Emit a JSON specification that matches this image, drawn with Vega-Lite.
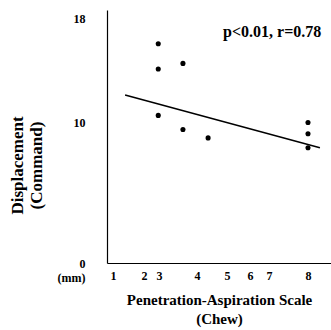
{
  "$schema": "https://vega.github.io/schema/vega-lite/v6.json",
  "autosize": "none",
  "width": 224,
  "height": 253,
  "padding": {"left": 107, "top": 10, "right": 0, "bottom": 67},
  "background": "white",
  "config": {
    "view": {"stroke": null},
    "font": "Liberation Serif",
    "axis": {"grid": false, "ticks": false, "domainColor": "black", "domainWidth": 1.2, "labelFont": "Liberation Serif", "titleFont": "Liberation Serif", "labelColor": "black", "titleColor": "black"}
  },
  "datasets": {
    "pts": [
      {"pas": 2.95, "disp": 15.6},
      {"pas": 2.95, "disp": 13.8},
      {"pas": 2.95, "disp": 10.5},
      {"pas": 3.63, "disp": 14.2},
      {"pas": 3.63, "disp": 9.5},
      {"pas": 4.37, "disp": 8.9},
      {"pas": 8.0, "disp": 10.0},
      {"pas": 8.0, "disp": 9.2},
      {"pas": 8.0, "disp": 8.2}
    ],
    "fit": [
      {"pas": 1.39, "disp": 11.95},
      {"pas": 8.43, "disp": 8.2}
    ],
    "note": [
      {"pas": 7.08, "disp": 16.4, "text": "p<0.01, r=0.78"}
    ]
  },
  "layer": [
    {
      "mark": {"type": "rule", "color": "#555555", "strokeWidth": 1},
      "encoding": {"y": {"datum": 18}}
    },
    {
      "data": {"name": "pts"},
      "mark": {"type": "circle", "color": "black", "opacity": 1, "size": 26},
      "encoding": {
        "x": {
          "field": "pas", "type": "quantitative",
          "scale": {"type": "linear", "domain": [0.785, 1, 2, 3, 4, 5, 6, 7, 8, 8.83], "range": [0, 6, 37, 52, 90, 120, 143, 162, 201, 224], "nice": false, "zero": false},
          "axis": {
            "values": [1, 2, 3, 4, 5, 6, 7, 8],
            "tickCount": 20,
            "format": "d",
            "labelOverlap": false, "labelFlush": false, "labelBound": false,
            "labelFontSize": 12, "labelFontWeight": "bold", "labelPadding": 7,
            "title": ["Penetration-Aspiration Scale", "(Chew)"],
            "titleFontSize": 15, "titleFontWeight": "bold", "titlePadding": 11, "titleLineHeight": 19
          }
        },
        "y": {
          "field": "disp", "type": "quantitative",
          "scale": {"domain": [0, 18], "nice": false},
          "axis": {
            "values": [0, 10, 18],
            "tickCount": 20,
            "labelExpr": "datum.value == 0 ? ['0', '(mm)'] : datum.label",
            "labelOverlap": false, "labelFlush": false,
            "labelFontSize": 12, "labelFontWeight": "bold", "labelPadding": 22,
            "labelOffset": {"expr": "datum.value == 18 ? 8 : 0"},
            "labelLineHeight": 14,
            "title": ["Displacement", "(Command)"],
            "titleY": 155,
            "titleFontSize": 17, "titleFontWeight": "bold", "titlePadding": 12, "titleLineHeight": 19
          }
        }
      }
    },
    {
      "data": {"name": "fit"},
      "mark": {"type": "line", "color": "black", "strokeWidth": 1.5},
      "encoding": {
        "x": {"field": "pas", "type": "quantitative"},
        "y": {"field": "disp", "type": "quantitative"}
      }
    },
    {
      "data": {"name": "note"},
      "mark": {"type": "text", "fontSize": 16, "fontWeight": "bold", "color": "black", "font": "Liberation Serif"},
      "encoding": {
        "x": {"field": "pas", "type": "quantitative"},
        "y": {"field": "disp", "type": "quantitative"},
        "text": {"field": "text"}
      }
    }
  ]
}
